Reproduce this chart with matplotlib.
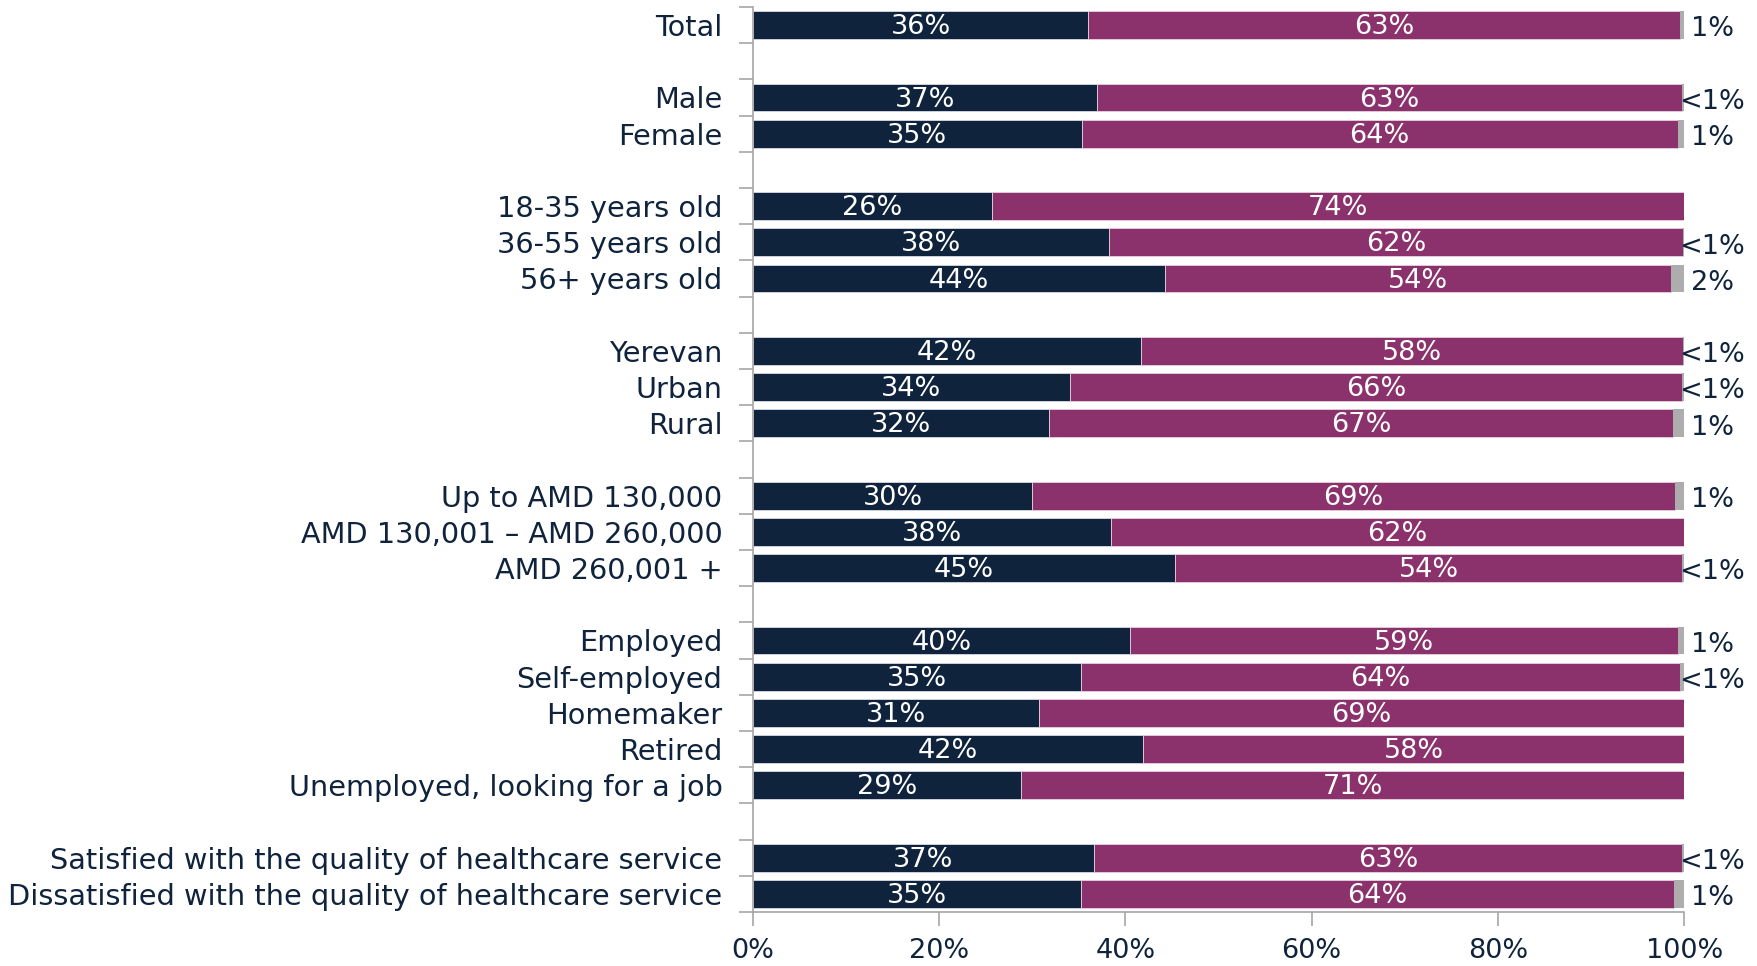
import numpy as np
import matplotlib
matplotlib.use("Agg")
import matplotlib.pyplot as plt

plt.rcParams['font.family'] = ['DejaVu Sans']

# rows (None = empty gap row)
categories = ["Total", None,
              "Male", "Female", None,
              "18-35 years old", "36-55 years old", "56+ years old", None,
              "Yerevan", "Urban", "Rural", None,
              "Up to AMD 130,000", "AMD 130,001 \u2013 AMD 260,000", "AMD 260,001 +", None,
              "Employed", "Self-employed", "Homemaker", "Retired", "Unemployed, looking for a job", None,
              "Satisfied with the quality of healthcare service",
              "Dissatisfied with the quality of healthcare service"]

# bar lengths (percent)
navy = [36.0, 36.9, 35.3, 25.7, 38.2, 44.2, 41.7, 34.0, 31.8, 30.0, 38.4, 45.3,
        40.5, 35.2, 30.7, 41.9, 28.8, 36.6, 35.2]
magenta = [63.6, 62.9, 64.0, 74.3, 61.7, 54.4, 58.2, 65.8, 67.0, 69.0, 61.6, 54.5,
           58.8, 64.4, 69.3, 58.1, 71.2, 63.2, 63.7]
grey = [0.4, 0.24, 0.7, 0.0, 0.1, 1.4, 0.1, 0.2, 1.2, 1.0, 0.0, 0.24,
        0.7, 0.4, 0.0, 0.0, 0.0, 0.2, 1.1]

# printed labels
navy_lbl = ["36%", "37%", "35%", "26%", "38%", "44%", "42%", "34%", "32%", "30%", "38%", "45%",
            "40%", "35%", "31%", "42%", "29%", "37%", "35%"]
magenta_lbl = ["63%", "63%", "64%", "74%", "62%", "54%", "58%", "66%", "67%", "69%", "62%", "54%",
               "59%", "64%", "69%", "58%", "71%", "63%", "64%"]
grey_lbl = ["1%", "<1%", "1%", "", "<1%", "2%", "<1%", "<1%", "1%", "1%", "", "<1%",
            "1%", "<1%", "", "", "", "<1%", "1%"]

c_navy = "#0F233C"
c_mag = "#8B316B"
c_grey = "#ADADAD"
c_axis = "#A6A6A6"

pos = np.array([i for i, c in enumerate(categories) if c is not None])
names = [c for c in categories if c is not None]
navy = np.array(navy)
magenta = np.array(magenta)
grey = np.array(grey)

fig = plt.figure(figsize=(17.58, 9.66), dpi=100)
ax = fig.add_axes([0.4283, 0.0559, 0.958 - 0.4283, 0.9928 - 0.0559])

h = 0.77
ax.barh(pos, navy, height=h, color=c_navy, edgecolor="#D9D9E6", linewidth=0.6)
ax.barh(pos, magenta, left=navy, height=h, color=c_mag, edgecolor="#E6D0DE", linewidth=0.6)
ax.barh(pos, grey, left=navy + magenta, height=h, color=c_grey, linewidth=0)

fs = 19.5
for y, a, b, g, la, lb, lg in zip(pos, navy, magenta, grey, navy_lbl, magenta_lbl, grey_lbl):
    ax.text(a / 2, y + 0.06, la, ha="center", va="center", color="white", fontsize=fs)
    ax.text(a + b / 2, y + 0.06, lb, ha="center", va="center", color="white", fontsize=fs)
    if lg:
        ax.text(103, y + 0.12, lg, ha="center", va="center", color=c_navy, fontsize=fs,
                clip_on=False)

ax.set_xlim(0, 100)
ax.set_ylim(len(categories) - 0.5, -0.5)
ax.set_xticks(np.arange(0, 101, 20))
ax.set_xticklabels([f"{v}%" for v in range(0, 101, 20)], fontsize=fs, color=c_navy)
ax.set_yticks(np.arange(-0.5, len(categories), 1.0))
ax.set_yticklabels([])
ax.set_yticks(pos, minor=True)
ax.set_yticklabels(names, minor=True, fontsize=20.7, color=c_navy)
ax.tick_params(axis="y", which="minor", length=0, pad=22)
ax.tick_params(axis="y", which="major", length=10, color=c_axis, width=1.2)
ax.tick_params(axis="x", length=10, color=c_axis, width=1.2, pad=9)
for s in ["top", "right"]:
    ax.spines[s].set_visible(False)
for s in ["left", "bottom"]:
    ax.spines[s].set_color(c_axis)
    ax.spines[s].set_linewidth(1.2)

fig.savefig("out.png", dpi=100)
